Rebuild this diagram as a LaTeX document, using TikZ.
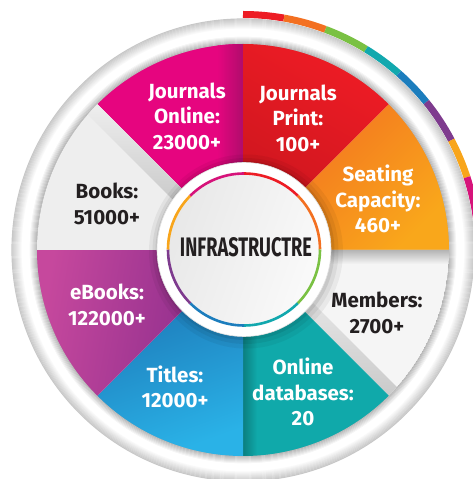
\documentclass[tikz,border=0pt]{standalone}
\usepackage{fontspec}
\setmainfont{Fira Sans}
\usepackage{graphicx}
\usetikzlibrary{calc}
\definecolor{cMag}{HTML}{E6057F}
\definecolor{cMagD}{HTML}{B00C6C}
\definecolor{cRed}{HTML}{EE1C25}
\definecolor{cRedD}{HTML}{C8151D}
\definecolor{cOrA}{HTML}{F26C21}
\definecolor{cOrB}{HTML}{F9A71B}
\definecolor{cGrayW}{HTML}{EEEEEE}
\definecolor{cGrayS}{HTML}{B4B4B4}
\definecolor{cTeal}{HTML}{10A9AA}
\definecolor{cTealD}{HTML}{0B7F80}
\definecolor{cBlueA}{HTML}{1A6DAE}
\definecolor{cBlueB}{HTML}{2AB2E7}
\definecolor{cPurA}{HTML}{C6489D}
\definecolor{cPurB}{HTML}{84298A}
\definecolor{txtdark}{HTML}{231F20}
\definecolor{aRed}{HTML}{ED1C24}
\definecolor{aOr}{HTML}{F37021}
\definecolor{aGreen}{HTML}{7AC143}
\definecolor{aTeal}{HTML}{12A8AE}
\definecolor{aBlue}{HTML}{1C7DBD}
\definecolor{aPur}{HTML}{7E3B8E}
\definecolor{aYel}{HTML}{F8A51B}
\definecolor{aMag}{HTML}{D6137A}
\definecolor{ringB}{HTML}{A8A8A8}
\definecolor{ringC}{HTML}{C8C8C8}
\definecolor{discA}{HTML}{E8E8E8}
\definecolor{discB}{HTML}{FAFAFA}
\tikzset{
  lbl/.style={font=\fontsize{20.5}{25.5}\selectfont\bfseries, align=center, text=white, inner sep=0pt},
  lbldark/.style={lbl, text=txtdark},
  arcseg/.style={line width=7pt},
  ringseg/.style={line width=2.6pt},
  ringline/.style={line width=1.15pt}
}
\begin{document}
\begin{tikzpicture}[x=1pt,y=1pt]
\useasboundingbox (0,0) rectangle (473,479);
\clip (0,0) rectangle (473,479);
\fill[white] (0,0) rectangle (473,479);
\coordinate (c) at (243,229);
\coordinate (cc) at (244,229.5);
% outer coloured arc
\foreach \a/\b/\col in {90/80/aRed, 80/69.5/aOr, 69.5/58.5/aGreen, 58.5/48.6/aTeal, 48.6/38.9/aBlue, 38.9/27.8/aPur, 27.8/18/aYel, 18/0/aMag}
  \draw[arcseg, \col] ($(c)+(\a:235.5pt)$) arc[start angle=\a, end angle=\b, radius=235.5pt];
% outer white ring
\fill[white] (c) circle[radius=231pt];
\foreach \r in {221,...,231} {
  \pgfmathtruncatemacro\p{100-(\r-221)*10}
  \draw[ringline, white!\p!ringC] (c) circle[radius=\r pt];
}
\foreach \r in {205,...,214} {
  \pgfmathtruncatemacro\p{(\r-205)*100/9}
  \draw[ringline, white!\p!ringB] (c) circle[radius=\r pt];
}
\begin{scope}[shift={(c)}]
  % Journals Online
  \begin{scope}
    \clip (0,0) -- (135:206pt) arc[start angle=135, end angle=90, radius=206pt] -- cycle;
    \fill[cMag] (-206,0) rectangle (0,206);
    \shade[left color=cMag, right color=cMagD] (-26,0) rectangle (0,206);
  \end{scope}
  % Journals Print
  \shade[top color=cRed, bottom color=cRedD, shading angle=-30] (0,0) -- (90:206pt) arc[start angle=90, end angle=45, radius=206pt] -- cycle;
  % Seating
  \shade[left color=cOrA, right color=cOrB, shading angle=45] (0,0) -- (45:206pt) arc[start angle=45, end angle=0, radius=206pt] -- cycle;
  % Members
  \begin{scope}
    \clip (0,0) -- (0:206pt) arc[start angle=0, end angle=-45, radius=206pt] -- cycle;
    \fill[cGrayW!60!white] (0,0) circle[radius=206pt];
    \shade[top color=cGrayS, bottom color=cGrayW!60!white] (0,-14) rectangle (206,0);
    \begin{scope}[rotate=-45]
      \shade[bottom color=cGrayS!70!white, top color=cGrayW!60!white] (0,0) rectangle (206,12);
    \end{scope}
  \end{scope}
  % Online databases
  \begin{scope}
    \clip (0,0) -- (-45:206pt) arc[start angle=-45, end angle=-90, radius=206pt] -- cycle;
    \shade[left color=cTealD, right color=cTeal] (0,-206) rectangle (14,0);
    \fill[cTeal] (14,-206) rectangle (206,0);
  \end{scope}
  % Titles
  \shade[top color=cBlueA, bottom color=cBlueB, shading angle=20] (0,0) -- (-90:206pt) arc[start angle=-90, end angle=-135, radius=206pt] -- cycle;
  % eBooks
  \shade[left color=cPurA, right color=cPurB, shading angle=80] (0,0) -- (-135:206pt) arc[start angle=-135, end angle=-180, radius=206pt] -- cycle;
  % Books
  \begin{scope}
    \clip (0,0) -- (180:206pt) arc[start angle=180, end angle=135, radius=206pt] -- cycle;
    \fill[cGrayW] (0,0) circle[radius=206pt];
    \begin{scope}[rotate=135]
      \shade[bottom color=cGrayS, top color=cGrayW] (0,0) rectangle (206,14);
    \end{scope}
  \end{scope}
\end{scope}
% centre disc
\fill[black, opacity=0.05] ($(cc)+(2,-2)$) circle[radius=97pt];
\fill[black, opacity=0.06] ($(cc)+(1.5,-1.5)$) circle[radius=93pt];
\fill[black, opacity=0.08] ($(cc)+(1,-1)$) circle[radius=89.5pt];
\fill[white, draw=black!12, line width=0.6pt] (cc) circle[radius=87pt];
\shade[left color=discA, right color=discB, shading angle=70] (cc) circle[radius=76pt];
\foreach \a/\b/\col in {90/45/aRed, 45/0/aOr, 0/-45/aGreen, -45/-90/aTeal, -90/-135/aBlue, -135/-180/aPur, 180/135/aYel, 135/90/aMag}
  \draw[ringseg, \col] ($(cc)+(\a:76pt)$) arc[start angle=\a, end angle=\b, radius=76pt];
% labels
\node[lbl] (jo) at (187,363) {Journals\\Online:\\23000+};
\node[lbl] (jp) at (298,361) {Journals\\Print:\\100+};
\node[lbl] (sc) at (378,280) {Seating\\Capacity:\\460+};
\node[lbldark] (bk) at (107,275) {Books:\\51000+};
\node[lbldark] (mb) at (377,166) {Members:\\2700+};
\node[lbl] (eb) at (107,174) {eBooks:\\122000+};
\node[lbl] (ti) at (175,92) {Titles:\\12000+};
\node[lbl] (od) at (303,87) {Online\\databases:\\20};
\node[inner sep=0pt, text=txtdark] (inf) at (246,232) {\resizebox{132pt}{19pt}{\bfseries INFRASTRUCTRE}};
\end{tikzpicture}
\end{document}
